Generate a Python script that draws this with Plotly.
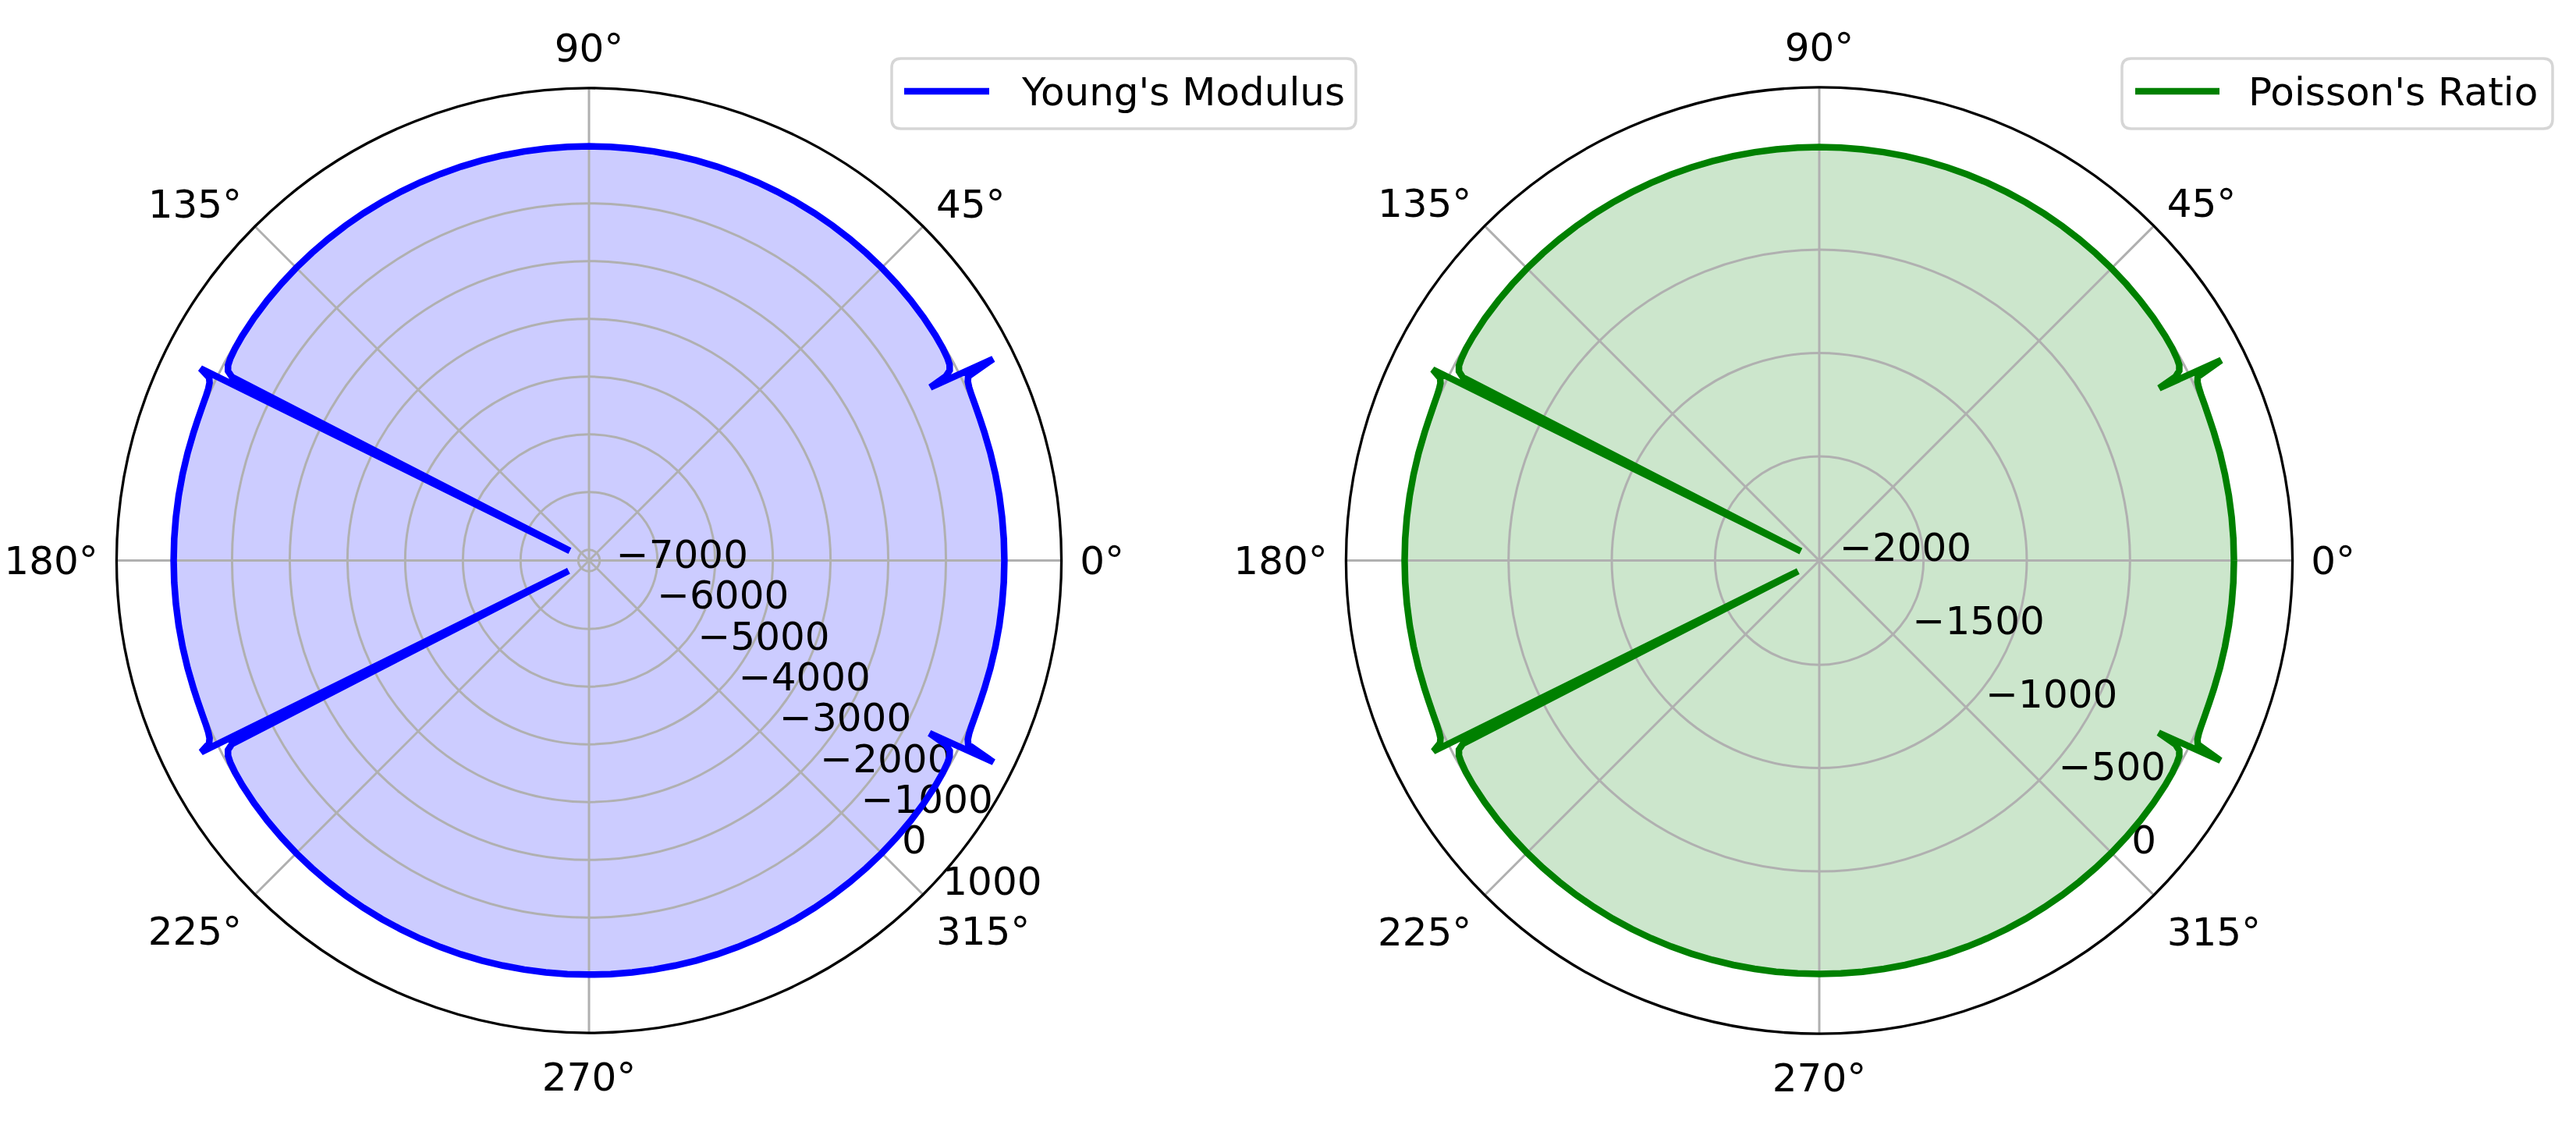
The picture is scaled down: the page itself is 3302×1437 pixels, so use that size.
import plotly.graph_objects as go

# angles in degrees (dense near the four singularities)
theta = [
    0, 3, 6, 9, 12, 15, 18, 20, 22, 23.5, 24.5, 25.3, 25.9, 26.5,
    26.9, 27.3, 27.8, 28.5, 29.5, 31, 33, 36, 39, 42, 45, 48, 51, 54, 57, 60, 63, 66, 69, 72, 75, 78, 81, 84, 87, 90,
    93, 96, 99, 102, 105, 108, 111, 114, 117, 120, 123, 126, 129, 132, 135, 138, 141, 144.1, 147.1, 149.1, 150.6,
    151.6, 152.3, 152.8, 153.2,
    153.7, 154.3, 154.9, 155.7, 156.7, 158.2, 160.2, 162, 165, 168, 171, 174, 177, 180,
    183, 186, 189, 192, 195, 198, 199.8, 201.8, 203.3, 204.3, 205.1, 205.7, 206.3,
    206.8, 207.2, 207.7, 208.4, 209.4, 210.9, 212.9, 215.9, 219, 222, 225, 228, 231, 234, 237, 240, 243, 246, 249,
    252, 255, 258, 261, 264, 267, 270,
    273, 276, 279, 282, 285, 288, 291, 294, 297, 300, 303, 306, 309, 312, 315, 318, 321, 324, 327, 329, 330.5,
    331.5, 332.2, 332.7, 333.1,
    333.5, 334.1, 334.7, 335.5, 336.5, 338, 340, 342, 345, 348, 351, 354, 357, 360,
]

young = [
    12, 12, 12, 13, 14, 15, 17, 20, 28, 38, 52, 75, 120, 639,
    -553, -230, -120, -75, -52, -36, -26, -19, -16, -14, -12, -11, -11, -10, -10, -10, -10, -9, -9, -9, -9, -9, -9, -9, -9, -9,
    -9, -9, -9, -9, -9, -9, -9, -9, -10, -10, -10, -10, -11, -11, -12, -14, -16, -19, -26, -36, -52,
    -75, -120, -230, -6814,
    323, 120, 75, 52, 38, 28, 20, 17, 15, 14, 13, 12, 12, 12,
    12, 12, 13, 14, 15, 17, 20, 28, 38, 52, 75, 120, 310,
    -6790, -230, -120, -75, -52, -36, -26, -19, -16, -14, -12, -11, -11, -10, -10, -10, -10, -9, -9,
    -9, -9, -9, -9, -9, -9, -9,
    -9, -9, -9, -9, -9, -9, -9, -9, -10, -10, -10, -10, -11, -11, -12, -14, -16, -19, -26, -36, -52,
    -75, -120, -230, -568,
    646, 120, 75, 52, 38, 28, 20, 17, 15, 14, 13, 12, 12, 12,
]

poisson = [
    3.3, 3.3, 3.3, 3.4, 3.6, 4.2, 4.7, 5.5, 8, 11, 15, 21, 33, 170,
    -159, -64, -34, -21, -15, -10, -7.3, -5.3, -4.5, -3.9, -3.4, -3.1, -3, -2.8, -2.8, -2.7, -2.7, -2.5, -2.5, -2.5,
    -2.5, -2.5, -2.5, -2.5, -2.5, -2.5,
    -2.5, -2.5, -2.5, -2.5, -2.5, -2.5, -2.5, -2.5, -2.7, -2.7, -2.8, -2.8, -3, -3.1, -3.4, -3.9, -4.5, -5.3, -7.3,
    -10, -15, -21, -34, -64, -1905,
    83, 33, 21, 15, 11, 8, 5.5, 4.7, 4.2, 3.6, 3.4, 3.3, 3.3, 3.3,
    3.3, 3.3, 3.4, 3.6, 4.2, 4.7, 5.5, 8, 11, 15, 21, 33, 79,
    -1890, -64, -34, -21, -15, -10, -7.3, -5.3, -4.5, -3.9, -3.4, -3.1, -3, -2.8, -2.8, -2.7, -2.7, -2.5, -2.5,
    -2.5, -2.5, -2.5, -2.5, -2.5, -2.5, -2.5,
    -2.5, -2.5, -2.5, -2.5, -2.5, -2.5, -2.5, -2.5, -2.7, -2.7, -2.8, -2.8, -3, -3.1, -3.4, -3.9, -4.5, -5.3, -7.3,
    -10, -15, -21, -34, -64, -162,
    166, 33, 21, 15, 11, 8, 5.5, 4.7, 4.2, 3.6, 3.4, 3.3, 3.3, 3.3,
]

assert len(theta) == len(young) == len(poisson)

young_range = [-7186, 1001]
young_ticks = [-7000, -6000, -5000, -4000, -3000, -2000, -1000, 0, 1000]
poisson_range = [-2005, 287]
poisson_ticks = [-2000, -1500, -1000, -500, 0]

angle_ticks = [0, 45, 90, 135, 180, 225, 270, 315]
angle_labels = [f"{a}°" for a in angle_ticks]

W, H = 3302, 1437
FONT = "DejaVu Sans"
FS = 50
GRID = "#b0b0b0"

fig = go.Figure()

# bottom layer: the filled area only, so the grid of the upper subplot sits on top of it
fig.add_trace(go.Scatterpolar(theta=theta, r=young, mode="lines", fill="toself",
                              fillcolor="rgba(0,0,255,0.2)", line=dict(width=0, color="rgba(0,0,0,0)"),
                              subplot="polar", showlegend=False, hoverinfo="skip"))
fig.add_trace(go.Scatterpolar(theta=theta, r=young, mode="lines", line=dict(color="blue", width=8.5),
                              name="Young's Modulus", subplot="polar2", showlegend=False))
fig.add_trace(go.Scatterpolar(theta=theta, r=poisson, mode="lines", fill="toself",
                              fillcolor="rgba(0,128,0,0.2)", line=dict(width=0, color="rgba(0,0,0,0)"),
                              subplot="polar3", showlegend=False, hoverinfo="skip"))
fig.add_trace(go.Scatterpolar(theta=theta, r=poisson, mode="lines", line=dict(color="green", width=8.5),
                              name="Poisson's Ratio", subplot="polar4", showlegend=False))


def fill_polar(domain_x, domain_y, rng):
    return dict(
        domain=dict(x=domain_x, y=domain_y), bgcolor="white",
        radialaxis=dict(range=rng, visible=False, showgrid=False),
        angularaxis=dict(visible=False, showgrid=False, direction="counterclockwise", rotation=0),
    )


def top_polar(domain_x, domain_y, rng, ticks):
    return dict(
        domain=dict(x=domain_x, y=domain_y), bgcolor="rgba(0,0,0,0)",
        radialaxis=dict(range=rng, tickmode="array", tickvals=ticks,
                        ticktext=[str(t).replace("-", "\u2212") for t in ticks],
                        angle=-45, side="counterclockwise", tickangle=-45,
                        showline=False, ticks="", gridcolor=GRID, gridwidth=3.3,
                        tickfont=dict(family=FONT, size=FS, color="black"), layer="below traces"),
        angularaxis=dict(direction="counterclockwise", rotation=0, tickmode="array",
                         tickvals=angle_ticks, ticktext=angle_labels,
                         showline=True, linecolor="black", linewidth=3.3,
                         gridcolor=GRID, gridwidth=3.3, ticks="outside", ticklen=12,
                         tickcolor="rgba(0,0,0,0)",
                         tickfont=dict(family=FONT, size=FS, color="black")),
    )


left_x, left_y = [0.04525, 0.41205], [0.07857, 0.92143]
right_x, right_y = [0.52253, 0.88995], [0.0778, 0.9221]


def rounded_box(x0, y0, x1, y1, rad):
    # pixel box (top-left origin) -> paper path with rounded corners
    fx = lambda v: v / W
    fy = lambda v: 1 - v / H
    return (f"M{fx(x0 + rad)},{fy(y0)} L{fx(x1 - rad)},{fy(y0)} Q{fx(x1)},{fy(y0)} {fx(x1)},{fy(y0 + rad)} "
            f"L{fx(x1)},{fy(y1 - rad)} Q{fx(x1)},{fy(y1)} {fx(x1 - rad)},{fy(y1)} "
            f"L{fx(x0 + rad)},{fy(y1)} Q{fx(x0)},{fy(y1)} {fx(x0)},{fy(y1 - rad)} "
            f"L{fx(x0)},{fy(y0 + rad)} Q{fx(x0)},{fy(y0)} {fx(x0 + rad)},{fy(y0)} Z")


# legend boxes drawn by hand: (box x0, box x1, sample x0, sample x1, text x, label, colour)
legends = [
    (1143, 1738, 1159, 1268, 1307, "Young's Modulus", "blue"),
    (2720, 3272, 2737, 2845, 2880, "Poisson's Ratio", "green"),
]
shapes, annotations = [], []
for bx0, bx1, lx0, lx1, tx, label, colour in legends:
    shapes.append(dict(type="path", xref="paper", yref="paper", path=rounded_box(bx0, 75, bx1, 165, 12),
                       line=dict(color="#d6d6d6", width=3.5), fillcolor="white", layer="above"))
    shapes.append(dict(type="line", xref="paper", yref="paper", x0=lx0 / W, x1=lx1 / W,
                       y0=1 - 117 / H, y1=1 - 117 / H, line=dict(color=colour, width=8.5), layer="above"))
    annotations.append(dict(text=label, xref="paper", yref="paper", x=tx / W, y=1 - 118 / H,
                            xanchor="left", yanchor="middle", showarrow=False,
                            font=dict(family=FONT, size=FS, color="black")))

fig.update_layout(
    width=W, height=H,
    margin=dict(l=0, r=0, t=0, b=0),
    paper_bgcolor="white",
    font=dict(family=FONT, size=FS, color="black"),
    showlegend=False,
    polar=fill_polar(left_x, left_y, young_range),
    polar2=top_polar(left_x, left_y, young_range, young_ticks),
    polar3=fill_polar(right_x, right_y, poisson_range),
    polar4=top_polar(right_x, right_y, poisson_range, poisson_ticks),
    shapes=shapes,
    annotations=annotations,
)

fig.write_html("out.html", config={"displayModeBar": False},
               post_script="document.body.style.margin='0px';")
